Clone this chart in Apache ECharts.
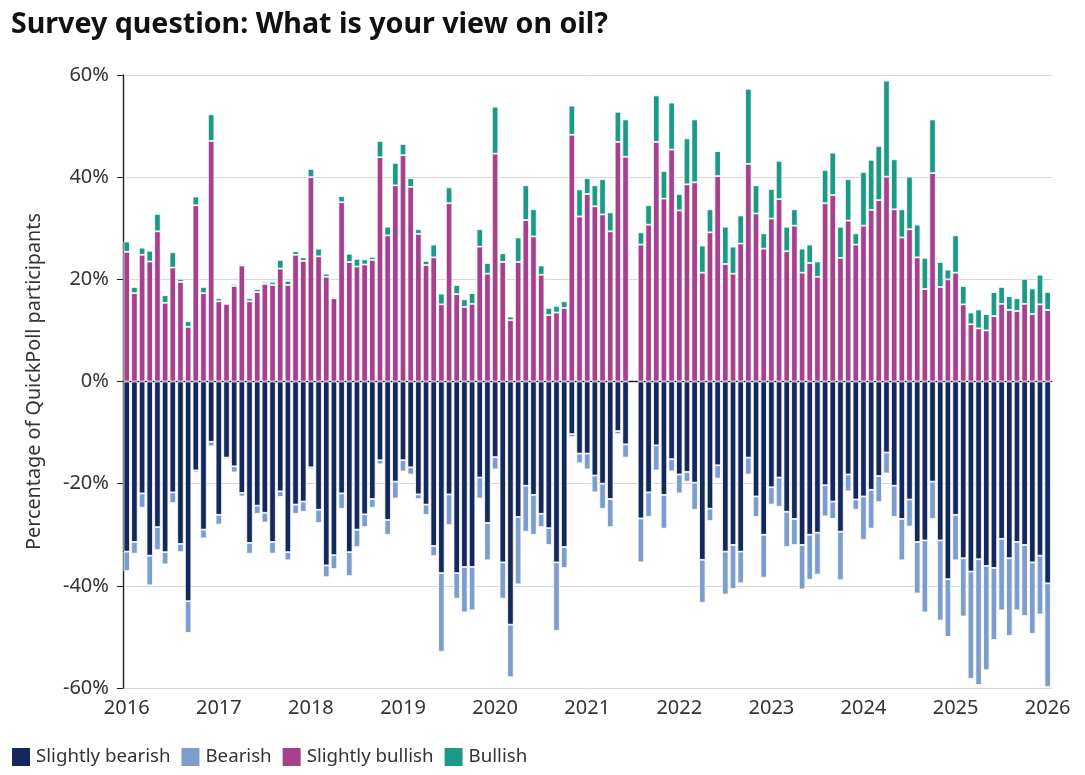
<!DOCTYPE html>
<html>
<head>
<meta charset="utf-8">
<script src="https://cdn.jsdelivr.net/npm/echarts@6/dist/echarts.min.js"></script>
<style>
html,body{margin:0;padding:0;background:#fff;}
#chart{width:1085px;height:775px;}
</style>
</head>
<body>
<div id="chart"></div>
<script>
// Monthly survey, Jan 2016 .. Jan 2026 (121 months); null = no survey
const startYear = 2016;
const nMonths = 121;
const months = Array.from({length:nMonths}, (_,i)=>{
  const y = startYear + Math.floor(i/12), m = i%12 + 1;
  return y + '-' + (m<10?'0':'') + m;
});
const seriesNames = ['Slightly bearish','Bearish','Slightly bullish','Bullish'];

const slightlyBullish = [
25.4,17.3,24.8,23.5,29.4,15.4,22.3,19.5,10.7,34.5,17.3,47.1,
15.7,15.2,18.7,22.7,15.7,17.5,19.1,18.9,22.1,18.9,24.8,23.6,
40.0,24.5,20.5,16.3,35.1,23.4,22.5,22.9,23.8,43.9,28.6,38.4,
44.3,38.1,28.9,22.8,24.3,15.1,34.9,17.1,14.6,15.2,26.4,21.1,
44.6,23.4,12.0,23.4,31.6,28.4,20.9,13.0,13.5,14.4,48.3,32.3,
36.7,34.3,32.7,29.4,46.9,44.0,null,26.8,30.7,46.9,35.8,45.4,
33.5,38.6,39.0,21.3,29.2,40.2,23.0,21.1,27.0,42.6,32.9,26.0,
31.9,35.7,25.5,30.5,21.3,23.2,20.5,34.9,36.5,24.2,31.5,26.8,
30.5,33.6,35.5,40.1,33.7,28.2,29.8,24.3,18.1,40.8,18.5,20.0,
21.3,15.1,11.2,10.4,10.0,12.8,15.2,14.0,13.8,15.2,13.2,15.1,
14.0];
const bullish = [
2.0,1.2,1.4,2.1,3.4,1.5,3.0,0.6,1.1,1.7,1.2,5.2,
0.6,0.2,0.4,0.3,0.6,0.6,0.4,0.6,1.7,0.8,0.7,0.7,
1.6,1.5,0.6,0.3,1.2,1.6,1.5,1.0,0.6,3.2,1.7,4.4,
2.2,1.7,0.9,0.8,2.5,2.1,3.1,1.8,1.5,2.1,3.4,2.1,
9.2,1.7,0.7,4.8,6.8,5.3,1.8,1.4,1.3,1.3,5.7,5.3,
3.1,4.1,6.9,3.7,5.9,7.3,null,2.4,3.8,9.1,5.4,9.2,
3.2,9.0,12.3,5.3,4.5,4.9,7.3,5.3,5.5,14.7,5.5,3.0,
5.8,7.5,4.8,3.2,4.7,3.6,3.0,6.5,8.3,6.1,8.1,2.2,
10.5,9.8,10.6,18.8,9.8,5.5,10.3,6.4,6.1,10.5,4.9,1.9,
7.3,3.6,2.3,3.7,3.2,4.7,3.3,2.7,2.5,4.9,5.0,5.8,
3.5];
const slightlyBearish = [
-33.3,-31.4,-21.9,-34.1,-28.5,-33.4,-21.7,-31.8,-43.0,-17.4,-29.0,-11.8,
-26.1,-14.9,-16.6,-21.8,-31.6,-24.3,-25.7,-31.4,-21.5,-33.4,-24.1,-23.5,
-16.8,-25.1,-36.0,-34.0,-21.9,-33.4,-29.0,-26.0,-23.0,-15.4,-27.1,-19.6,
-15.4,-16.8,-22.1,-24.1,-32.2,-37.5,-22.1,-37.5,-36.3,-36.3,-18.8,-27.7,
-14.8,-35.4,-47.6,-26.5,-20.4,-22.2,-25.9,-28.7,-35.4,-32.4,-10.3,-14.1,
-14.1,-18.4,-20.0,-23.0,-9.7,-12.3,null,-26.8,-21.7,-12.5,-22.2,-15.2,
-18.2,-17.7,-19.8,-34.9,-24.9,-16.4,-33.3,-32.0,-33.3,-14.9,-22.5,-30.0,
-20.7,-18.8,-25.5,-26.9,-32.0,-30.0,-29.6,-20.3,-23.5,-29.4,-18.2,-23.1,
-22.5,-21.2,-18.5,-13.9,-20.4,-26.9,-23.1,-31.4,-31.1,-19.6,-31.1,-38.7,
-26.1,-34.6,-37.2,-34.8,-36.1,-36.5,-30.8,-34.6,-31.4,-32.0,-35.4,-34.1,
-39.5];
const bearish = [
-3.8,-2.3,-2.8,-5.8,-4.5,-2.4,-2.1,-1.6,-6.2,-0.4,-1.7,-0.9,
-1.9,-0.3,-1.2,-0.7,-2.1,-1.6,-1.9,-2.3,-1.1,-1.6,-1.8,-2.0,
-0.4,-2.6,-2.3,-2.7,-3.0,-4.7,-3.4,-2.5,-1.7,-0.8,-2.9,-3.3,
-2.2,-1.4,-0.9,-2.0,-2.0,-15.4,-6.0,-5.0,-8.9,-8.5,-4.1,-7.3,
-2.4,-7.1,-10.3,-13.2,-9.0,-7.8,-2.6,-3.3,-13.4,-4.1,-0.6,-1.9,
-3.1,-3.3,-4.9,-5.5,-0.6,-2.6,null,-8.6,-4.8,-4.9,-6.6,-2.4,
-3.7,-1.9,-5.3,-8.4,-2.4,-2.6,-8.4,-8.6,-6.2,-3.3,-4.0,-8.4,
-3.4,-5.7,-6.9,-5.1,-8.7,-8.8,-8.2,-6.1,-3.4,-9.5,-3.3,-2.0,
-8.5,-7.6,-5.1,-4.1,-6.1,-8.1,-5.3,-10.1,-14.1,-7.3,-15.7,-11.3,
-8.9,-11.4,-21.0,-24.6,-20.4,-14.1,-14.0,-15.2,-13.4,-13.9,-14.0,-11.5,
-20.3];
const colors = ['#13295b','#7d9dcc','#a6418e','#1c9a86'];

const FONT = '"Noto Sans", "Open Sans", sans-serif';
const allData = [slightlyBearish, bearish, slightlyBullish, bullish];
const isYearStart = (i)=> i % 12 === 0;

const chart = echarts.init(document.getElementById('chart'), null, {renderer:'canvas'});
chart.setOption({
  animation:false,
  backgroundColor:'#fff',
  textStyle:{fontFamily:FONT},
  title:{
    text:'Survey question: What is your view on oil?',
    left:6, top:5,
    textStyle:{fontFamily:FONT, fontWeight:'bold', fontSize:28.6, color:'#111'}
  },
  legend:{
    data:seriesNames,
    left:5, bottom:2,
    itemWidth:20, itemHeight:20, itemGap:9,
    icon:'rect',
    textStyle:{fontFamily:FONT, fontSize:18.7, color:'#333'}
  },
  grid:{left:122.9, right:33.5, top:75, bottom:87, containLabel:false},
  xAxis:{
    type:'category', data:months, boundaryGap:true,
    axisLine:{show:true, lineStyle:{color:'#222', width:1.4}},
    axisTick:{show:true, length:8, alignWithLabel:true, interval:(i)=>isYearStart(i), lineStyle:{color:'#222'}},
    axisLabel:{fontFamily:FONT, fontSize:20, color:'#333', margin:10,
      interval:(i)=>isYearStart(i),
      formatter:(v)=>v.slice(0,4)},
    splitLine:{show:false}
  },
  yAxis:{
    type:'value', min:-60, max:60, interval:20,
    name:'Percentage of QuickPoll participants',
    nameLocation:'middle', nameGap:79, nameRotate:90,
    nameTextStyle:{fontFamily:FONT, fontSize:19.8, color:'#333'},
    axisLine:{show:true, lineStyle:{color:'#222', width:1.4}},
    axisTick:{show:true, length:6, lineStyle:{color:'#222'}},
    axisLabel:{fontFamily:FONT, fontSize:20, color:'#333', margin:14, formatter:'{value}%'},
    splitLine:{show:true, lineStyle:{color:'#d8d8d8', width:1}}
  },
  series: seriesNames.map((name,k)=>({
    name:name, type:'bar', stack:'total',
    barWidth:6.4,
    itemStyle:{color:colors[k], borderColor:'#fff', borderWidth:0.8},
    data:allData[k].map(v=> v===null ? '-' : v)
  }))
});
</script>
</body>
</html>
